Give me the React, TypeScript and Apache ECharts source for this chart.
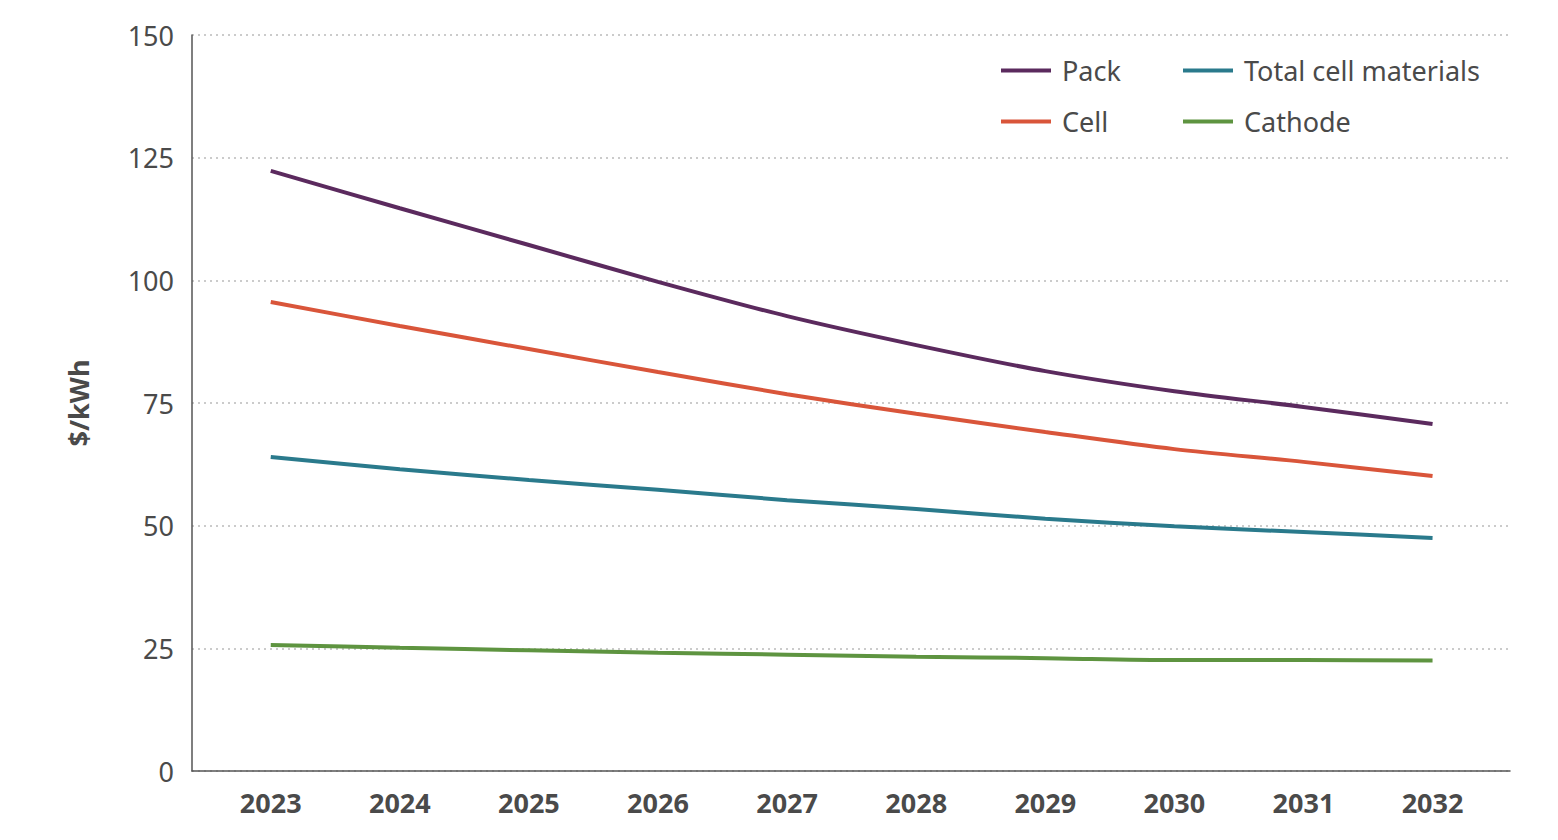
import { useEffect, useRef } from "react";
import * as echarts from "echarts";

const years = [2023, 2024, 2025, 2026, 2027, 2028, 2029, 2030, 2031, 2032];
const pack = [122.3, 114.7, 107.2, 99.7, 92.7, 86.8, 81.5, 77.4, 74.2, 70.7];
const cell = [95.6, 90.7, 86.0, 81.3, 76.8, 72.8, 69.1, 65.6, 63.0, 60.1];
const totalCellMaterials = [64.0, 61.5, 59.3, 57.3, 55.2, 53.4, 51.4, 49.9, 48.7, 47.5];
const cathode = [25.7, 25.1, 24.6, 24.1, 23.7, 23.3, 23.0, 22.6, 22.6, 22.5];

const font = "'Noto Sans', sans-serif";
const textColor = "#4a4a4a";

export default function App() {
  const ref = useRef<HTMLDivElement>(null);

  useEffect(() => {
    if (!ref.current) return;
    const chart = echarts.init(ref.current, undefined, { renderer: "svg" });

    const mk = (name: string, data: number[], color: string) => ({
      name,
      type: "line",
      smooth: 0.3,
      symbol: "none",
      data: data.map((v, i) => [years[i], v]),
      lineStyle: { color, width: 4 },
      itemStyle: { color },
    });

    const legendBase = {
      orient: "vertical",
      top: 52,
      itemWidth: 50,
      itemHeight: 4,
      itemGap: 24,
      icon: "rect",
      textStyle: { fontFamily: font, fontSize: 27, color: textColor, padding: [0, 0, 0, 6] },
    };

    chart.setOption({
      animation: false,
      textStyle: { fontFamily: font },
      grid: { left: 192, right: 48, top: 35, bottom: 69 },
      legend: [
        { ...legendBase, left: 996, data: ["Pack", "Cell"] },
        { ...legendBase, left: 1178, data: ["Total cell materials", "Cathode"] },
      ],
      xAxis: {
        type: "value",
        min: 2022.39,
        max: 2032.6,
        splitLine: { show: false },
        axisLine: { lineStyle: { color: "#555", width: 1.5 } },
        axisTick: { show: false },
        axisLabel: {
          customValues: years,
          color: textColor,
          fontSize: 27,
          fontWeight: "bold",
          margin: 18,
          formatter: (v: number) => String(v),
        },
      },
      yAxis: {
        type: "value",
        min: 0,
        max: 150,
        interval: 25,
        name: "$/kWh",
        nameLocation: "middle",
        nameGap: 100,
        nameTextStyle: { fontSize: 27, fontWeight: "bold", color: textColor },
        axisLine: { show: true, lineStyle: { color: "#555", width: 1.5 } },
        axisTick: { show: false },
        axisLabel: { color: textColor, fontSize: 27, margin: 18 },
        splitLine: { lineStyle: { color: "#bbb", type: [2, 4], width: 1.5 } },
      },
      series: [
        mk("Pack", pack, "#5b2a5e"),
        mk("Cell", cell, "#d9553a"),
        mk("Total cell materials", totalCellMaterials, "#2a7a8c"),
        mk("Cathode", cathode, "#5e9440"),
      ],
    });

    return () => chart.dispose();
  }, []);

  return (
    <div
      ref={ref}
      style={{ position: "fixed", left: 0, top: 0, width: 1558, height: 840, background: "#fff" }}
    />
  );
}
